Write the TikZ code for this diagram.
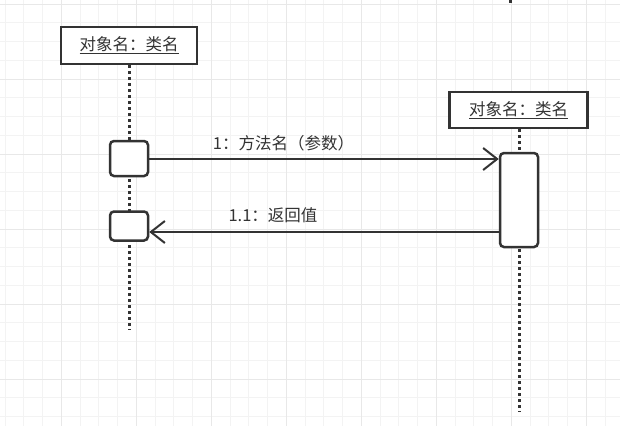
\documentclass[tikz,border=0pt]{standalone}
\usepackage{fontspec}
\newfontfamily\cjk{Noto Sans CJK SC}
\usetikzlibrary{arrows.meta}
\definecolor{linegray}{RGB}{51,51,51}
\definecolor{textgray}{RGB}{51,51,51}
\definecolor{gridminor}{RGB}{243,243,243}
\definecolor{gridmajor}{RGB}{232,232,232}

\begin{document}
\begin{tikzpicture}[x=1pt, y=-1pt,
  obj/.style={draw=linegray, line width=2.5pt, fill=white, inner sep=0pt, font=\cjk\fontsize{16.5}{19}\selectfont, text=textgray},
  act/.style={draw=linegray, line width=2.5pt, fill=white, rounded corners=4pt, minimum width=38pt, inner sep=0pt},
  msg/.style={-{Straight Barb[length=14pt, width=22pt, line width=2pt]}, line width=2pt, linegray},
  life/.style={line width=3pt, linegray, dash pattern=on 3pt off 3pt},
  lbl/.style={font=\cjk\fontsize{16.5}{19}\selectfont, text=textgray, inner sep=1pt}
]
  \useasboundingbox (0,0) rectangle (620,426);
  \fill[white] (0,0) rectangle (620,426);

  % grid
  \begin{scope}
    \clip (0,0) rectangle (620,426);
    \foreach \k in {0,...,33}
      \draw[gridminor, line width=1pt] (5+18.75*\k, 0) -- ++(0,426);
    \foreach \k in {0,...,22}
      \draw[gridminor, line width=1pt] (0, 4+18.75*\k) -- ++(620,0);
    \foreach \k in {3,7,...,31}
      \draw[gridmajor, line width=1pt] (5+18.75*\k, 0) -- ++(0,426);
    \foreach \k in {0,4,...,20}
      \draw[gridmajor, line width=1pt] (0, 4+18.75*\k) -- ++(620,0);
  \end{scope}

  % objects
  \node[obj, minimum width=136pt, minimum height=37pt] (objA) at (129,45.5) {\underline{对象名：类名}};
  \node[obj, minimum width=138pt, minimum height=36pt] (objB) at (518.5,110) {\underline{对象名：类名}};

  % lifelines
  \coordinate (endA) at (129,330);
  \coordinate (endB) at (519,412);
  \coordinate (topC) at (510,0);
  \coordinate (endC) at (510,5);
  \draw[life] (objA.south -| endA) -- (endA);
  \draw[life] (objB.south -| endB) -- (endB);
  \draw[life] (topC) -- (endC);

  % activations
  \node[act, minimum height=35pt] (actA1) at (129,158.5) {};
  \node[act, minimum height=29pt] (actA2) at (129,226) {};
  \node[act, minimum height=94pt] (actB1) at (519,200) {};

  % messages
  \coordinate (call) at ([yshift=-0.5pt]actA1.east);
  \coordinate (ret) at ([yshift=-6pt]actA2.east);
  \draw[msg] (call) -- (call -| actB1.west);
  \draw[msg] (ret -| actB1.west) -- (ret);
  \node[lbl] (lblCall) at (283.5,143.5) {1：方法名（参数）};
  \node[lbl] (lblRet) at (273,215.5) {1.1：返回值};
\end{tikzpicture}
\end{document}
